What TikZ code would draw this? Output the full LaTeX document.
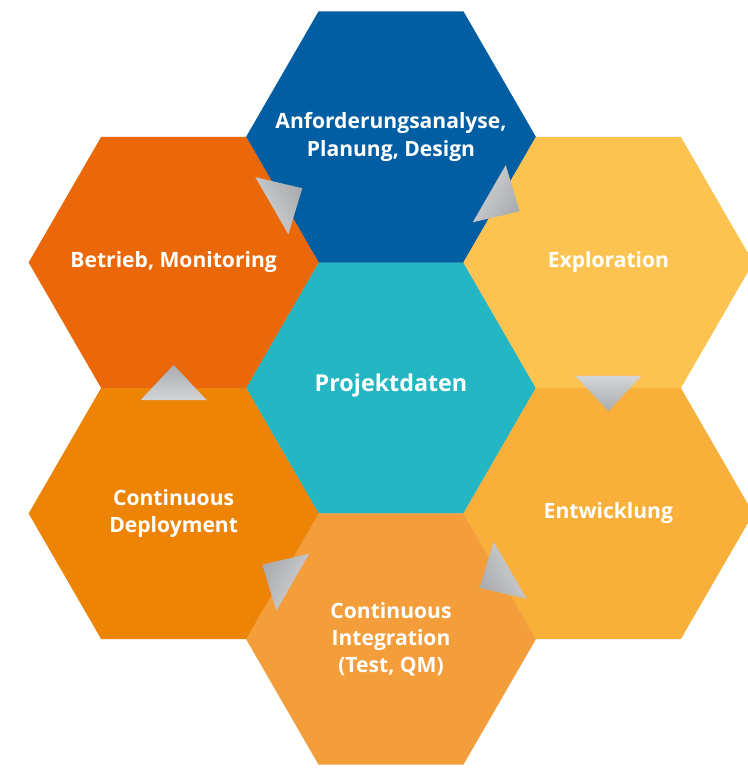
\documentclass[tikz,border=0pt]{standalone}
\usepackage{fontspec}
\setmainfont{Open Sans}
\usepackage{tikz}
\usetikzlibrary{shapes.geometric,calc}
\definecolor{planblue}{RGB}{2,94,162}
\definecolor{explyellow}{RGB}{253,195,81}
\definecolor{devorange}{RGB}{248,176,59}
\definecolor{ciorange}{RGB}{244,157,59}
\definecolor{cdorange}{RGB}{238,132,5}
\definecolor{opsorange}{RGB}{234,104,10}
\definecolor{datateal}{RGB}{36,182,195}
\definecolor{flowlight}{RGB}{210,212,214}
\definecolor{flowdark}{RGB}{170,172,175}

\begin{document}
\begin{tikzpicture}[
  font=\bfseries\fontsize{12}{15.4}\selectfont,
  hex/.style={regular polygon, regular polygon sides=6, minimum size=5.8cm, inner sep=0pt, outer sep=0pt},
  hextext/.style={text=white, align=center, inner sep=0pt},
  flow/.style={top color=flowlight, bottom color=flowdark},
]
\useasboundingbox (-7.82,-7.60) rectangle (7.14,7.76);

% honeycomb
\node[hex, fill=datateal] (data) {};
\node[hex, fill=planblue] (plan) at (90:5.02) {};
\node[hex, fill=explyellow] (expl) at (30:5.02) {};
\node[hex, fill=devorange] (dev) at (-30:5.02) {};
\node[hex, fill=ciorange] (ci) at (-90:5.02) {};
\node[hex, fill=cdorange] (cd) at (210:5.02) {};
\node[hex, fill=opsorange] (ops) at (150:5.02) {};

% labels
\node[hextext, font=\bfseries\fontsize{13.25}{16}\selectfont] (datatxt) at ([yshift=1.5pt]data) {Projektdaten};
\node[hextext] (plantxt) at (plan) {Anforderungsanalyse,\\Planung, Design};
\node[hextext] (expltxt) at (expl) {Exploration};
\node[hextext] (devtxt) at (dev) {Entwicklung};
\node[hextext] (citxt) at (ci) {Continuous\\Integration\\(Test, QM)};
\node[hextext] (cdtxt) at (cd) {Continuous\\Deployment};
\node[hextext] (opstxt) at (ops) {Betrieb, Monitoring};

% cycle arrows, base on the source side of the shared edge
\coordinate (b1) at ($(ops)!0.452!(plan)$);
\shade[flow, shading angle=120] ($(b1)!0.66cm!90:(plan)$) -- ($(ops)!0.592!(plan)$) -- ($(b1)!0.66cm!-90:(plan)$) -- cycle;
\coordinate (b2) at ($(plan)!0.452!(expl)$);
\shade[flow, shading angle=60] ($(b2)!0.66cm!90:(expl)$) -- ($(plan)!0.592!(expl)$) -- ($(b2)!0.66cm!-90:(expl)$) -- cycle;
\coordinate (b3) at ($(expl)!0.452!(dev)$);
\shade[flow, shading angle=0] ($(b3)!0.66cm!90:(dev)$) -- ($(expl)!0.592!(dev)$) -- ($(b3)!0.66cm!-90:(dev)$) -- cycle;
\coordinate (b4) at ($(dev)!0.452!(ci)$);
\shade[flow, shading angle=300] ($(b4)!0.66cm!90:(ci)$) -- ($(dev)!0.592!(ci)$) -- ($(b4)!0.66cm!-90:(ci)$) -- cycle;
\coordinate (b5) at ($(ci)!0.452!(cd)$);
\shade[flow, shading angle=240] ($(b5)!0.66cm!90:(cd)$) -- ($(ci)!0.592!(cd)$) -- ($(b5)!0.66cm!-90:(cd)$) -- cycle;
\coordinate (b6) at ($(cd)!0.452!(ops)$);
\shade[flow, shading angle=180] ($(b6)!0.66cm!90:(ops)$) -- ($(cd)!0.592!(ops)$) -- ($(b6)!0.66cm!-90:(ops)$) -- cycle;
\end{tikzpicture}
\end{document}
